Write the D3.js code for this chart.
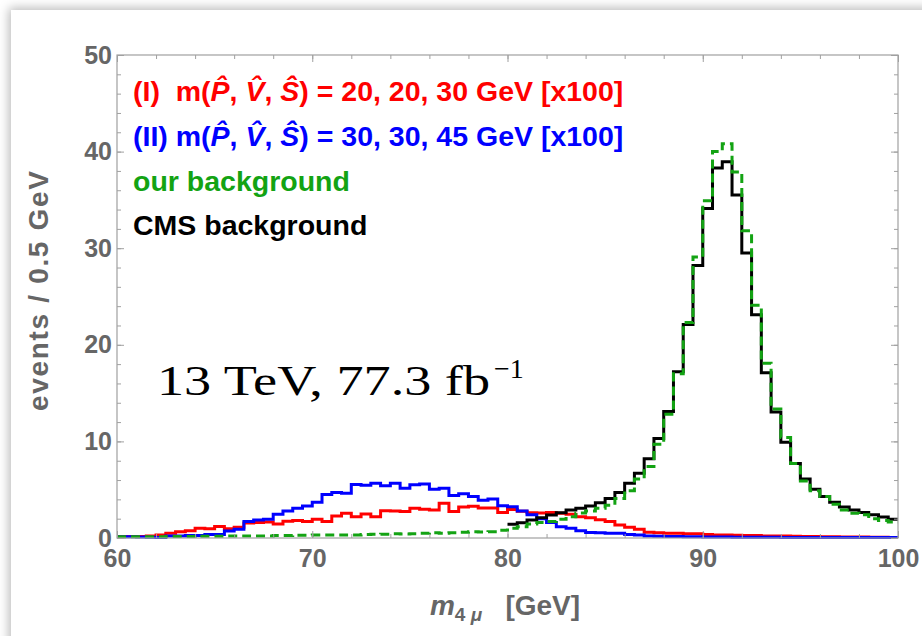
<!DOCTYPE html>
<html>
<head>
<meta charset="utf-8">
<script src="https://cdn.jsdelivr.net/npm/d3@7"></script>
<style>
  body { margin: 0; background: #fff; width: 922px; height: 636px; overflow: hidden; position: relative; }
  #card { position: absolute; left: 11px; top: 10px; width: 960px; height: 680px; background: #fff;
          box-shadow: 0 0 10px 2px rgba(0,0,0,0.28); }
  #chart { position: absolute; left: 0; top: 0; }
</style>
</head>
<body>
<div id="card"></div>
<div id="chart"></div>
<script>
// histogram binning (GeV)
var binStart = 60, binWidth = 0.5;

// signal (I), 60-100 GeV, x100
var sigI = [0.15, 0.15, 0.15, 0.2, 0.3, 0.5, 0.65, 0.75, 1.0, 0.97,
            1.2, 0.95, 1.1, 1.55, 1.6, 1.65, 1.45, 1.73, 1.8, 1.7,
            1.93, 1.7, 2.28, 2.55, 2.2, 2.48, 2.2, 2.83, 2.8, 2.75,
            3.07, 2.97, 2.9, 3.6, 2.75, 3.2, 3.28, 3.1, 3.1, 2.65,
            2.95, 2.78, 2.62, 2.6, 2.65, 2.55, 2.45, 2.2, 2.1, 1.9,
            1.7, 1.35, 1.1, 0.9, 0.6, 0.55, 0.5, 0.5, 0.45, 0.45,
            0.35, 0.3, 0.3, 0.28, 0.25, 0.25, 0.22, 0.2, 0.2, 0.18,
            0.15, 0.15, 0.12, 0.12, 0.1, 0.1, 0.1, 0.08, 0.08, 0.05];

// signal (II), 60-100 GeV, x100
var sigII = [0.12, 0.12, 0.1, 0.08, 0.05, 0.2, 0.2, 0.26, 0.26, 0.36,
             0.36, 0.72, 0.9, 1.7, 1.86, 1.93, 2.45, 2.8, 3.07, 3.3,
             3.7, 4.5, 4.7, 4.62, 5.55, 5.45, 5.66, 5.4, 5.66, 5.14,
             5.5, 5.6, 5.04, 5.15, 4.4, 4.58, 4.3, 3.9, 4.05, 3.33,
             3.24, 2.8, 2.4, 2.0, 1.6, 1.17, 1.0, 0.76, 0.58, 0.55,
             0.5, 0.48, 0.35, 0.32, 0.2, 0.18, 0.15, 0.15, 0.12, 0.12,
             0.1, 0.1, 0.1, 0.08, 0.08, 0.08, 0.07, 0.07, 0.06, 0.06,
             0.06, 0.05, 0.05, 0.05, 0.05, 0.05, 0.05, 0.05, 0.05, 0.05];

// our background, 60-100 GeV
var ourBkg = [0.12, 0.12, 0.12, 0.12, 0.12, 0.15, 0.15, 0.15, 0.18, 0.18,
              0.18, 0.2, 0.2, 0.22, 0.22, 0.22, 0.25, 0.25, 0.28, 0.28,
              0.3, 0.3, 0.3, 0.32, 0.32, 0.35, 0.38, 0.4, 0.45, 0.42,
              0.45, 0.5, 0.55, 0.5, 0.55, 0.6, 0.65, 0.62, 0.65, 0.8,
              1.0, 1.17, 1.45, 1.6, 1.7, 1.93, 2.2, 2.6, 2.8, 3.07,
              3.4, 4.1, 4.9, 6.1, 7.4, 9.7, 12.8, 17.0, 22.3, 29.1,
              34.9, 40.0, 40.8, 37.9, 31.8, 24.1, 18.1, 13.35, 10.4, 7.7,
              5.9, 4.9, 4.3, 3.5, 2.9, 2.55, 2.4, 2.0, 1.8, 1.66];

// CMS background, 80-100 GeV
var cmsStart = 80;
var cmsBkg = [1.42, 1.59, 1.86, 2.1, 2.38, 2.62, 2.9, 3.07, 3.3, 3.65,
              4.1, 4.7, 5.66, 6.7, 8.2, 10.3, 13.1, 17.2, 22.1, 28.2,
              34.1, 38.3, 38.95, 35.5, 29.5, 23.1, 17.1, 13.05, 9.9, 7.7,
              6.1, 5.05, 4.3, 3.7, 3.22, 2.9, 2.65, 2.4, 2.17, 1.93];

var xTicks = [60, 70, 80, 90, 100];
var yTicks = [0, 10, 20, 30, 40, 50];

var W = 922, H = 636;
var margin = {top: 55, right: 24, bottom: 98, left: 117};

var svg = d3.select("#chart").append("svg")
    .attr("width", W).attr("height", H)
    .style("font-family", "'Liberation Sans', Arial, sans-serif");

var x = d3.scaleLinear().domain([60, 100]).range([margin.left, W - margin.right]);
var y = d3.scaleLinear().domain([0, 50]).range([H - margin.bottom, margin.top]);

var frameCol = "#a0a0a0", labCol = "#666";

svg.append("clipPath").attr("id", "clip")
  .append("rect")
    .attr("x", x(60)).attr("y", y(50))
    .attr("width", x(100) - x(60)).attr("height", y(0) - y(50) + 2);

function hist(vals, start) {
  var pts = vals.map((v, i) => [start + i * binWidth, v]);
  pts.push([start + vals.length * binWidth, vals[vals.length - 1]]);
  return pts;
}

var line = d3.line()
    .x(d => x(d[0]))
    .y(d => y(d[1]))
    .curve(d3.curveStepAfter);

var plot = svg.append("g").attr("clip-path", "url(#clip)");

var series = [
  {vals: sigI, start: binStart, col: "#ff0000", dash: null},
  {vals: sigII, start: binStart, col: "#0000ff", dash: null},
  {vals: cmsBkg, start: cmsStart, col: "#000000", dash: null},
  {vals: ourBkg, start: binStart, col: "#13a313", dash: "9,5"}
];

plot.selectAll("path")
  .data(series)
  .join("path")
    .attr("d", d => line(hist(d.vals, d.start)))
    .attr("fill", "none")
    .attr("stroke", d => d.col)
    .attr("stroke-width", 3)
    .attr("stroke-dasharray", d => d.dash);

// frame + ticks (ticks point inward)
var minorX = d3.range(60, 101, 2), minorY = d3.range(0, 51, 2);

function styleAxis(g) {
  g.select(".domain").remove();
  g.selectAll("line").attr("stroke", frameCol).attr("stroke-width", 1);
}

svg.append("g")
    .attr("transform", `translate(0,${y(0)})`)
    .call(d3.axisBottom(x).tickValues(minorX).tickFormat("").tickSize(-4))
    .call(styleAxis);
svg.append("g")
    .attr("transform", `translate(0,${y(50)})`)
    .call(d3.axisTop(x).tickValues(minorX).tickFormat("").tickSize(-4))
    .call(styleAxis);
svg.append("g")
    .attr("transform", `translate(${x(60)},0)`)
    .call(d3.axisLeft(y).tickValues(minorY).tickFormat("").tickSize(-4))
    .call(styleAxis);
svg.append("g")
    .attr("transform", `translate(${x(100)},0)`)
    .call(d3.axisRight(y).tickValues(minorY).tickFormat("").tickSize(-4))
    .call(styleAxis);

svg.append("g")
    .attr("transform", `translate(0,${y(0)})`)
    .call(d3.axisBottom(x).tickValues(xTicks).tickSize(-7).tickPadding(11))
    .call(styleAxis);
svg.append("g")
    .attr("transform", `translate(0,${y(50)})`)
    .call(d3.axisTop(x).tickValues(xTicks).tickFormat("").tickSize(-7))
    .call(styleAxis);
svg.append("g")
    .attr("transform", `translate(${x(60)},0)`)
    .call(d3.axisLeft(y).tickValues(yTicks).tickSize(-7).tickPadding(5))
    .call(styleAxis);
svg.append("g")
    .attr("transform", `translate(${x(100)},0)`)
    .call(d3.axisRight(y).tickValues(yTicks).tickFormat("").tickSize(-7))
    .call(styleAxis);

svg.selectAll(".tick text")
    .attr("fill", labCol)
    .attr("font-size", 25)
    .attr("font-weight", "bold")
    .attr("font-family", "'Liberation Sans', Arial, sans-serif");

svg.append("rect")
    .attr("x", x(60)).attr("y", y(50))
    .attr("width", x(100) - x(60)).attr("height", y(0) - y(50))
    .attr("fill", "none").attr("stroke", frameCol).attr("stroke-width", 1.2);

// axis labels
var xl = svg.append("text")
    .attr("x", 505).attr("y", 615)
    .attr("text-anchor", "middle")
    .attr("fill", labCol).attr("font-weight", "bold").attr("font-size", 28)
    .style("white-space", "pre");
xl.append("tspan").attr("font-style", "italic").text("m");
xl.append("tspan").attr("font-size", 19).attr("dy", 6).text("4 ");
xl.append("tspan").attr("font-size", 19).attr("font-style", "italic").text("\u03bc");
xl.append("tspan").attr("dy", -6).text("   [GeV]");

svg.append("text")
    .attr("transform", "translate(48,291) rotate(-90)")
    .attr("text-anchor", "middle")
    .attr("fill", labCol).attr("font-weight", "bold").attr("font-size", 28)
    .attr("textLength", 240).attr("lengthAdjust", "spacing")
    .text("events / 0.5 GeV");

// legend
var legend = [
  {col: "#ff0000", pre: "(I)  m(", post: ") = 20, 20, 30 GeV [x100]", hats: true},
  {col: "#0000ff", pre: "(II) m(", post: ") = 30, 30, 45 GeV [x100]", hats: true},
  {col: "#13a313", pre: "our background", hats: false},
  {col: "#000000", pre: "CMS background", hats: false}
];
var legBase = [101, 146, 191, 235];

legend.forEach(function(l, i) {
  var t = svg.append("text")
      .attr("x", 133).attr("y", legBase[i])
      .attr("fill", l.col).attr("font-weight", "bold").attr("font-size", 28.5)
      .style("white-space", "pre");
  t.append("tspan").text(l.pre);
  if (l.hats) {
    t.append("tspan").attr("font-style", "italic").text("P\u0302");
    t.append("tspan").text(", ");
    t.append("tspan").attr("font-style", "italic").text("V\u0302");
    t.append("tspan").text(", ");
    t.append("tspan").attr("font-style", "italic").text("S\u0302");
    t.append("tspan").text(l.post);
  }
});

// luminosity note
svg.append("text")
    .attr("x", 157).attr("y", 395)
    .attr("fill", "#000").attr("font-size", 42)
    .attr("font-family", "'Liberation Serif', 'DejaVu Serif', serif")
    .attr("textLength", 333).attr("lengthAdjust", "spacingAndGlyphs")
    .text("13 TeV, 77.3 fb");
svg.append("text")
    .attr("x", 494).attr("y", 378)
    .attr("fill", "#000").attr("font-size", 28)
    .attr("font-family", "'Liberation Serif', 'DejaVu Serif', serif")
    .text("\u22121");
</script>
</body>
</html>
